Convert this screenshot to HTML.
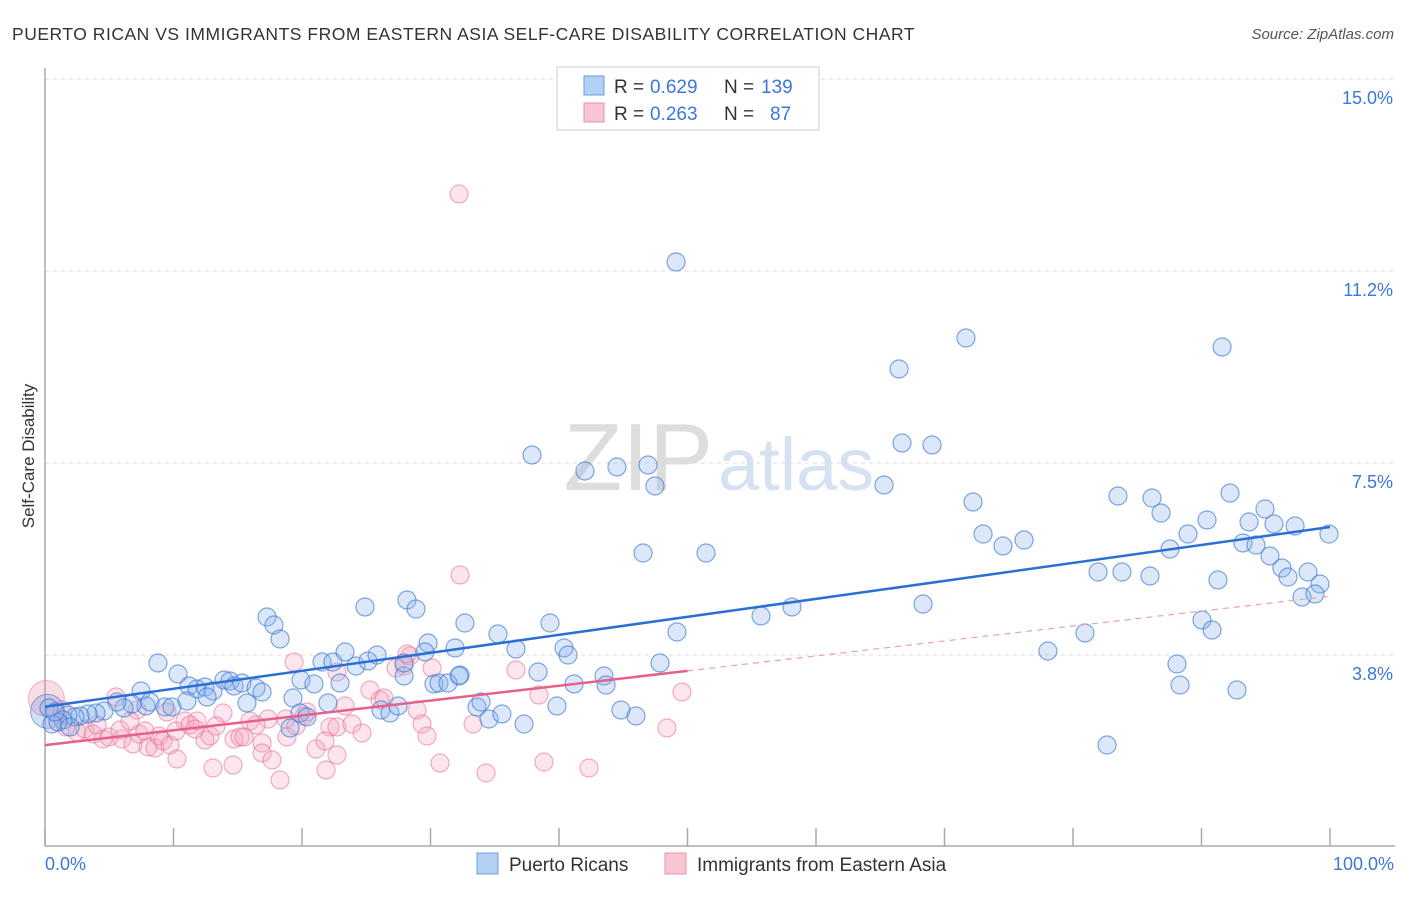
<!DOCTYPE html>
<html><head><meta charset="utf-8"><style>
body{margin:0;background:#fff;font-family:"Liberation Sans",sans-serif}
svg text{font-family:"Liberation Sans",sans-serif}
</style></head><body>
<svg width="1406" height="892" xmlns="http://www.w3.org/2000/svg">
<text x="12" y="40" font-size="17.5" fill="#333" letter-spacing="0.52">PUERTO RICAN VS IMMIGRANTS FROM EASTERN ASIA SELF-CARE DISABILITY CORRELATION CHART</text>
<text x="1394" y="39" font-size="15" fill="#555" font-style="italic" text-anchor="end">Source: ZipAtlas.com</text>
<text x="713" y="490" font-size="96" fill="#ddd" text-anchor="end" font-family="Liberation Serif">ZIP</text>
<text x="718" y="490" font-size="74" fill="#d6e2f2">atlas</text>
<g id="grid"></g>
<line x1="45" y1="68" x2="45" y2="846" stroke="#aaa" stroke-width="1.5"/>
<line x1="45" y1="846" x2="1395" y2="846" stroke="#aaa" stroke-width="1.5"/>
<text transform="translate(34,456) rotate(-90)" font-size="17" fill="#333" text-anchor="middle">Self-Care Disability</text>
<text x="45" y="870" font-size="18" fill="#3b78d8">0.0%</text>
<text x="1394" y="870" font-size="18" fill="#3b78d8" text-anchor="end">100.0%</text>
<g id="pts"></g>
<g id="lines"></g>
<g>
<rect x="557" y="67" width="262" height="63" fill="#fff" stroke="#ccc"/>
<rect x="584" y="76" width="20" height="19" fill="#b3cff2" stroke="#6a9de0"/>
<rect x="584" y="103" width="20" height="19" fill="#f8c5d3" stroke="#ec8fab"/>
<text y="93" font-size="19" fill="#333"><tspan x="614">R =</tspan><tspan x="650" fill="#3b78d8">0.629</tspan><tspan x="724">N =</tspan><tspan x="761" fill="#3b78d8">139</tspan></text>
<text y="120" font-size="19" fill="#333"><tspan x="614">R =</tspan><tspan x="650" fill="#3b78d8">0.263</tspan><tspan x="724">N =</tspan><tspan x="770" fill="#3b78d8">87</tspan></text>
</g>
<g>
<rect x="477" y="853" width="21" height="21" fill="#b3cff2" stroke="#6a9de0"/>
<text x="509" y="871" font-size="19" fill="#333">Puerto Ricans</text>
<rect x="665" y="853" width="21" height="21" fill="#f8c5d3" stroke="#ec8fab"/>
<text x="697" y="871" font-size="19" fill="#333">Immigrants from Eastern Asia</text>
</g>
</svg>
<script>
const yTicks=[3.75,7.5,11.25,15];
const yTickLabels=["3.8%","7.5%","11.2%","15.0%"];
const bluePx=[[676,262],[966,338],[1222,347],[899,369],[532,455],[902,443],[932,445],[585,471],[617,467],[648,465],[655,486],[884,485],[973,502],[1118,496],[1152,498],[1161,513],[1230,493],[1265,509],[1249,522],[1207,520],[1188,534],[1274,524],[1295,526],[1329,534],[983,534],[1003,546],[1024,540],[1170,549],[1243,543],[1256,545],[1270,556],[1282,568],[1288,577],[1308,572],[1320,584],[1302,597],[1315,594],[1218,580],[1098,572],[1122,572],[1150,576],[643,553],[706,553],[923,604],[1085,633],[1202,620],[1212,630],[1048,651],[1177,664],[1180,685],[1237,690],[1107,745],[761,616],[792,607],[677,632],[660,663],[550,623],[465,623],[498,634],[516,649],[564,648],[568,655],[538,672],[604,676],[574,684],[606,685],[557,706],[621,710],[636,716],[524,724],[489,719],[502,714],[477,707],[481,702],[407,600],[416,609],[365,607],[267,617],[274,625],[280,639],[158,663],[178,674],[189,686],[197,689],[205,687],[213,691],[224,680],[230,681],[234,686],[242,683],[256,688],[262,692],[141,691],[146,706],[150,702],[165,707],[172,707],[187,701],[207,697],[247,703],[293,698],[301,680],[314,684],[322,662],[333,662],[340,683],[345,652],[356,666],[368,661],[377,655],[404,676],[404,663],[428,643],[425,652],[455,648],[460,675],[434,684],[439,683],[448,683],[459,676],[381,710],[390,713],[398,706],[328,703],[300,713],[307,717],[290,728],[132,704],[124,708],[117,702],[104,711],[96,713],[88,714],[80,716],[75,717],[68,715],[63,720],[58,722],[52,724],[49,708],[55,712],[70,727]];
const pinkPx=[[459,194],[460,575],[294,662],[337,672],[404,666],[410,656],[432,668],[396,668],[407,654],[516,670],[370,690],[380,700],[384,698],[539,695],[682,692],[116,697],[137,710],[167,712],[223,713],[250,721],[268,719],[286,719],[304,716],[307,712],[330,727],[337,727],[345,706],[352,724],[362,733],[417,710],[422,724],[473,724],[667,728],[58,722],[66,727],[77,732],[85,729],[93,734],[103,739],[109,737],[122,739],[133,744],[139,734],[148,747],[155,748],[159,736],[163,741],[170,745],[176,731],[185,721],[190,725],[197,721],[205,740],[210,736],[216,726],[234,739],[240,737],[244,737],[256,725],[262,743],[287,737],[296,726],[316,749],[325,741],[337,755],[262,753],[272,760],[280,780],[213,768],[233,765],[326,770],[427,736],[440,763],[486,773],[544,762],[589,768],[177,759],[62,710],[97,725],[120,730],[130,721],[145,731],[195,729]];
const blueX=bluePx.map(p=>+((p[0]-45)/12.85).toFixed(2)), blueY=bluePx.map(p=>+((847-p[1])/51.2).toFixed(3));
const pinkX=pinkPx.map(p=>+((p[0]-45)/12.85).toFixed(2)), pinkY=pinkPx.map(p=>+((847-p[1])/51.2).toFixed(3));
const blueTrend=[2.74,6.25];
const pinkTrend=[1.99,3.44,4.9];
const NS="http://www.w3.org/2000/svg";
const sx=v=>45+v*12.85, sy=v=>847-v*51.2;
function mk(t,a,parent){const e=document.createElementNS(NS,t);for(const k in a)e.setAttribute(k,a[k]);parent.appendChild(e);return e;}
const grid=document.getElementById('grid');
yTicks.forEach((t,i)=>{
 const l=mk('line',{x1:45,x2:1395,y1:sy(t),y2:sy(t),stroke:'#ddd','stroke-dasharray':'4,4'},grid);
 
 
 const tx=mk('text',{x:1393,y:sy(t)+25,'font-size':18,fill:'#3b78d8','text-anchor':'end'},grid);
 tx.textContent=yTickLabels[i];
 
 
});
for(let i=0;i<=10;i++){
 const l=mk('line',{x1:sx(i*10),x2:sx(i*10),y1:828,y2:846,stroke:'#aaa','stroke-width':1.5},grid);
 
 
}
const pts=document.getElementById('pts');
const big1=mk('circle',{cx:sx(0.1),cy:sy(2.9),r:18,fill:'rgba(240,140,170,0.3)',stroke:'rgba(230,110,150,0.5)'},pts);


const big2=mk('circle',{cx:sx(0.2),cy:sy(2.65),r:17,fill:'rgba(110,150,220,0.3)',stroke:'rgba(60,120,210,0.6)'},pts);


pinkX.forEach((x,i)=>{
 const c=mk('circle',{cx:sx(x),cy:sy(pinkY[i]),r:9,fill:'rgba(245,160,185,0.28)',stroke:'rgba(230,110,150,0.55)','stroke-width':1.2},pts);
 
 
});
blueX.forEach((x,i)=>{
 const c=mk('circle',{cx:sx(x),cy:sy(blueY[i]),r:9,fill:'rgba(140,180,235,0.3)',stroke:'rgba(60,120,210,0.65)','stroke-width':1.2},pts);
 
 
});
const lines=document.getElementById('lines');
const bl=mk('line',{x1:sx(0),y1:sy(blueTrend[0]),x2:sx(100),y2:sy(blueTrend[1]),stroke:'#2a6fd6','stroke-width':2.5},lines);


const pl=mk('line',{x1:sx(0),y1:sy(pinkTrend[0]),x2:sx(50),y2:sy(pinkTrend[1]),stroke:'#e8608a','stroke-width':2.5},lines);


const pd=mk('line',{x1:sx(50),y1:sy(pinkTrend[1]),x2:sx(100),y2:sy(pinkTrend[2]),stroke:'#e8a0b5','stroke-width':1.2,'stroke-dasharray':'6,5'},lines);


</script>
</body></html>
